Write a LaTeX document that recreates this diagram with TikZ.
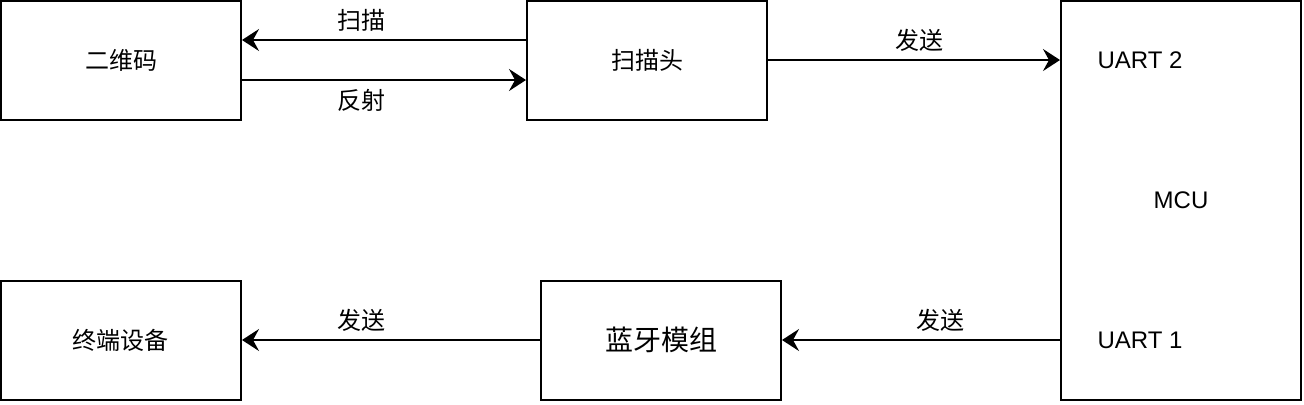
\documentclass[tikz,border=0pt]{standalone}
\usepackage{fontspec}
\setmainfont{Liberation Sans}
\newfontfamily\cjk{Noto Sans CJK SC}
\usetikzlibrary{arrows.meta}

\begin{document}
\begin{tikzpicture}[->,>={Stealth[length=8.5pt,width=11pt,inset=3pt]},line width=1pt,
                    node distance=263pt,font=\fontsize{12pt}{14pt}\selectfont,
                    box/.style={draw,rectangle,minimum width=120pt,minimum height=59.5pt,inner sep=0pt},
                    lbl/.style={inner sep=0pt,font=\cjk\fontsize{12pt}{14pt}\selectfont}]

  \useasboundingbox (-60.5pt,30pt) rectangle (591.5pt,-172pt);

  \node[box]  (qr)                 {\cjk 二维码};
  \node[box]  (scan) [right of=qr] {\cjk 扫描头};
  \node[box]  (term) [below of=qr, node distance=140pt] {\cjk 终端设备};
  \node[box, font=\cjk\fontsize{14pt}{17pt}\selectfont]  (bt) [right of=term, node distance=270pt] {蓝牙模组};

  \node[box, minimum height=199.5pt] (mcu) [right of=scan, node distance=267pt, yshift=-70pt] {MCU};
  \node (uart2) at ([xshift=-20.5pt]mcu.center |- scan) {UART 2};
  \node (uart1) at ([xshift=-20.5pt]mcu.center |- bt) {UART 1};

  \path ([yshift=10pt]scan.west) edge node[lbl, pos=.58, yshift=10pt] {扫描} ([yshift=10pt]qr.east);
  \path ([yshift=-10pt]qr.east) edge node[lbl, pos=.42, yshift=-10pt] {反射} ([yshift=-10pt]scan.west);
  \path (scan) edge node[lbl, pos=.52, yshift=10pt] {发送} (scan -| mcu.west);

  \path (mcu.west |- bt) edge node[lbl, pos=.43, yshift=10pt] {发送} (bt);
  \path (bt) edge node[lbl, pos=.6, yshift=10pt] {发送} (term);

\end{tikzpicture}
\end{document}
